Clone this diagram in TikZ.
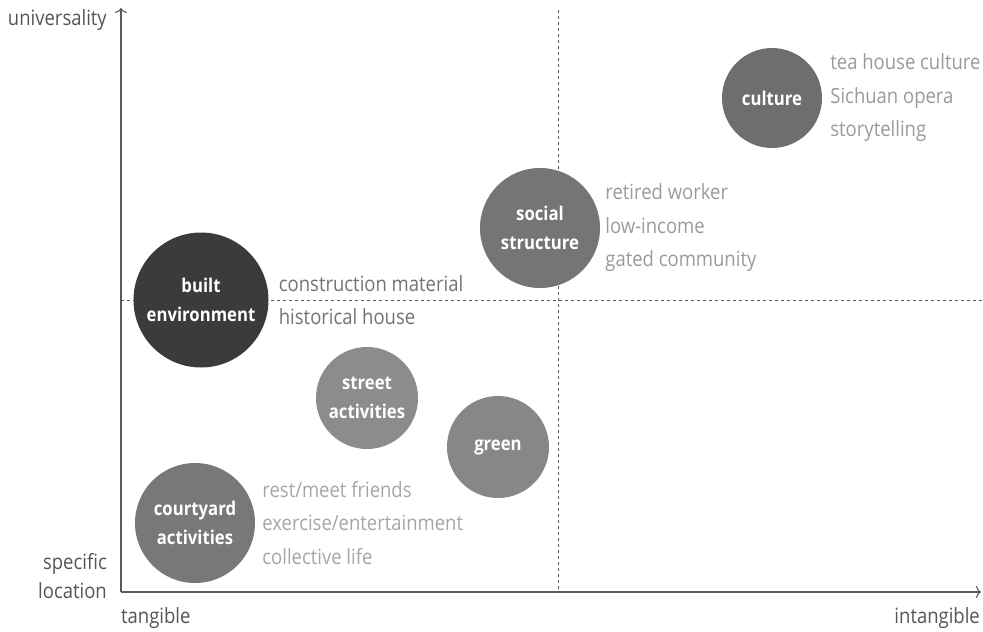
\documentclass[tikz,border=0pt]{standalone}
\usepackage{fontspec}
\setmainfont[FakeStretch=0.88]{Open Sans}
\usepackage{tikz}
\usetikzlibrary{arrows.meta}
\usetikzlibrary{positioning}
\definecolor{axisgray}{HTML}{5A5A5A}
\definecolor{labelgray}{HTML}{555555}
\definecolor{notegray}{HTML}{9A9A9A}
\tikzset{topic/.style = {circle, inner sep=0pt, text=white, align=center,
                         font=\fontsize{19}{29}\selectfont\bfseries},
         note/.style = {inner sep=0pt, align=left, text=notegray,
                        font=\fontsize{21}{33.5}\selectfont},
         axislabel/.style = {inner sep=0pt, text=labelgray,
                             font=\fontsize{21}{29}\selectfont},
         axis/.style = {axisgray, line width=1.3pt,
                        -{To[length=5pt, width=12pt, line width=1.1pt]}}}

\begin{document}
\begin{tikzpicture}[x=1pt, y=-1pt]
    \useasboundingbox (0, 0) rectangle (983, 632);
    \coordinate (origin) at (121, 592);
    \coordinate (ytop) at (121, 8);
    \coordinate (xend) at (981, 592);
    \coordinate (vtop) at (558, 10);
    \coordinate (vbot) at (558, 592);
    \coordinate (hleft) at (121, 300);
    \coordinate (hright) at (983, 300);

    \draw [axisgray, dashed] (vtop) -- (vbot);
    \draw [axisgray, dashed] (hleft) -- (hright);
    \draw [axis] (origin) -- (ytop);
    \draw [axis] (origin) -- (xend);

    \node [axislabel, anchor=east] (univ) at (107, 20) {universality};
    \node [axislabel, anchor=east, align=right] (spec) at (107, 576) {specific\\location};
    \node [axislabel, anchor=west] (tang) at (121, 618) {tangible};
    \node [axislabel, anchor=east] (intang) at (980, 618) {intangible};

    \node [topic, fill=black!57, minimum size=100] (culture) at (772, 98) {culture};
    \node [topic, fill=black!54, minimum size=120] (social) at (540, 228) {social\\structure};
    \node [topic, fill=black!77, minimum size=135] (built) at (201, 300) {built\\environment};
    \node [topic, fill=black!45, minimum size=102] (street) at (367, 398) {street\\activities};
    \node [topic, fill=black!47, minimum size=102] (green) at (498, 447) {green};
    \node [topic, fill=black!53, minimum size=120] (court) at (195, 523) {courtyard\\activities};

    \node [note, right=8 of culture] (culturenote) {tea house culture\\Sichuan opera\\storytelling};
    \node [note, right=5 of social] (socialnote) {retired worker\\low-income\\gated community};
    \node [note, right=10 of built, text=black!55] (builtnote) {construction material\\historical house};
    \node [note, right=7 of court, text=black!35] (courtnote) {rest/meet friends\\exercise/entertainment\\collective life};
  \end{tikzpicture}
\end{document}
